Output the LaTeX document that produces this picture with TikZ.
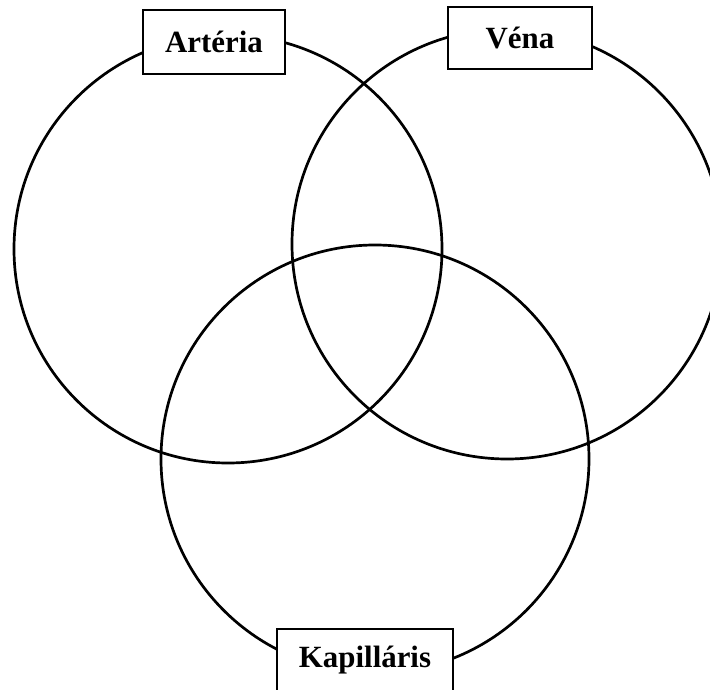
\documentclass[tikz,border=0pt]{standalone}
\usepackage{fontspec}
\setmainfont{Liberation Serif}
\usetikzlibrary{positioning}

\begin{document}
\begin{tikzpicture}[x=0.5bp, y=-0.5bp,
		ring/.style={line width=1.35pt},
		namebox/.style={draw, fill=white, line width=0.6pt, inner sep=0pt,
			font=\fontsize{15.5}{18}\selectfont\bfseries}]
			%%%%% START %%%%%
			
			\useasboundingbox (0, 0) rectangle (710, 690);
			
			\coordinate (arteria) at (228, 249);
			\coordinate (vena) at (507, 244);
			\coordinate (kapillaris) at (375, 459);
			
			\draw[ring] (arteria) circle[radius=107bp];
			\draw[ring] (vena) circle[radius=107.5bp];
			\draw[ring] (kapillaris) circle[radius=107bp];
			
			\node[namebox, minimum width=71bp, minimum height=32bp] (artbox) at (214, 42) {Artéria};
			\node[namebox, minimum width=72bp, minimum height=31bp] (venbox) at (520, 38) {Véna};
			\node[namebox, minimum width=88bp, minimum height=31bp] (kapbox) at (365, 660) {Kapilláris};
			
			%%%%% END %%%%%
\end{tikzpicture}
\end{document}
